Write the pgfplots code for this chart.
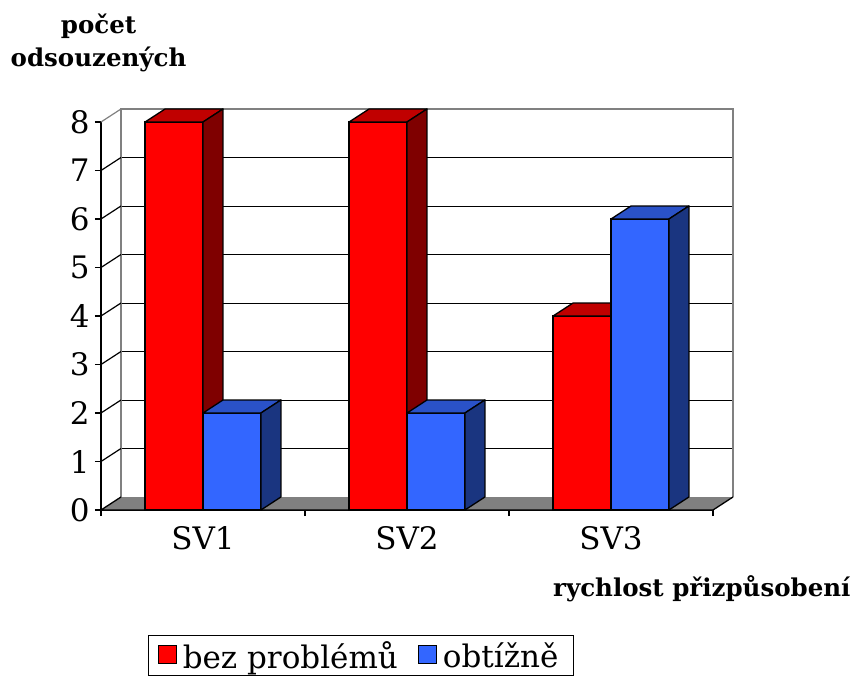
\documentclass[border=0pt]{standalone}
\usepackage{pgfplots}
\pgfplotsset{compat=1.18}
\usepackage{fontspec}
\setmainfont{DejaVu Serif}

\definecolor{redF}{HTML}{FF0000}
\definecolor{redT}{HTML}{C00000}
\definecolor{redS}{HTML}{7F0000}
\definecolor{bluF}{HTML}{3366FF}
\definecolor{bluT}{HTML}{2A52C8}
\definecolor{bluS}{HTML}{1A3580}
\definecolor{wallgray}{HTML}{808080}

% 3D faces (top + side) of a bar: #1 left edge of front face, #2 value, #3 top colour, #4 side colour
\newcommand\faces[4]{%
  \pgfmathsetmacro\xa{#1}%
  \pgfmathsetmacro\xb{#1+0.284}%
  \pgfmathsetmacro\xc{#1+0.098}%
  \pgfmathsetmacro\xd{#1+0.382}%
  \pgfmathsetmacro\yt{#2+0.268}%
  \edef\tmp{%
    \noexpand\addplot[forget plot, fill=#3, draw=black, line width=1.3bp, line join=round] coordinates {(\xa,#2) (\xb,#2) (\xd,\yt) (\xc,\yt)} -- cycle;
    \noexpand\addplot[forget plot, fill=#4, draw=black, line width=1.3bp, line join=round] coordinates {(\xb,0) (\xd,0.268) (\xd,\yt) (\xb,#2)} -- cycle;
  }\tmp}

\begin{document}
\begin{tikzpicture}
\begin{axis}[
  width=612bp, height=388bp, scale only axis,
  xmin=-0.5, xmax=2.5, ymin=0, ymax=8,
  clip=false,
  axis lines*=left,
  axis line style={-, black, line width=1.3bp},
  tick align=outside,
  major tick length=6bp,
  tick style={black, line width=1.3bp},
  ytick={0,1,...,8},
  xtick={-0.5,0.5,1.5,2.5},
  xticklabels={},
  extra x ticks={0,1,2},
  extra x tick labels={SV1,SV2,SV3},
  extra x tick style={major tick length=0pt},
  /pgf/number format/assume math mode=true,
  ticklabel style={font=\fontsize{31bp}{36bp}\selectfont},
  xticklabel style={yshift=-13bp},
  yticklabel style={xshift=-2bp},
  xlabel={rychlost přizpůsobení},
  xlabel style={at={(rel axis cs:1.225,-0.204)}, anchor=east, inner sep=0pt,
    font=\fontsize{24.5bp}{30bp}\selectfont\bfseries},
  ylabel={počet\\odsouzených},
  ylabel style={rotate=-90, at={(rel axis cs:-0.004,1.2036)}, anchor=center, align=center,
    inner sep=0pt, font=\fontsize{24.5bp}{33bp}\selectfont\bfseries},
  legend columns=2,
  legend image code/.code={\draw[#1, draw=black, line width=1bp] (0bp,-8bp) rectangle (18bp,10bp);},
  legend style={at={(rel axis cs:0.425,-0.375)}, anchor=center, draw=black, line width=1bp,
    font=\fontsize{31bp}{36bp}\selectfont, inner xsep=9bp, inner ysep=4bp,
    nodes={inner xsep=6bp, inner ysep=2bp},
    /tikz/every even column/.append style={column sep=14bp}},
]
% back wall grid lines (shifted by the depth)
\addplot[forget plot, black, line width=1bp] coordinates {(-0.402,1.268) (2.598,1.268)};
\addplot[forget plot, black, line width=1bp] coordinates {(-0.402,2.268) (2.598,2.268)};
\addplot[forget plot, black, line width=1bp] coordinates {(-0.402,3.268) (2.598,3.268)};
\addplot[forget plot, black, line width=1bp] coordinates {(-0.402,4.268) (2.598,4.268)};
\addplot[forget plot, black, line width=1bp] coordinates {(-0.402,5.268) (2.598,5.268)};
\addplot[forget plot, black, line width=1bp] coordinates {(-0.402,6.268) (2.598,6.268)};
\addplot[forget plot, black, line width=1bp] coordinates {(-0.402,7.268) (2.598,7.268)};
% back wall outline
\addplot[forget plot, wallgray, line width=1.3bp] coordinates {(-0.402,0.268) (-0.402,8.268) (2.598,8.268) (2.598,0.268)};
% side wall lines
\addplot[forget plot, black, line width=1.2bp] coordinates {(-0.5,1) (-0.402,1.268)};
\addplot[forget plot, black, line width=1.2bp] coordinates {(-0.5,2) (-0.402,2.268)};
\addplot[forget plot, black, line width=1.2bp] coordinates {(-0.5,3) (-0.402,3.268)};
\addplot[forget plot, black, line width=1.2bp] coordinates {(-0.5,4) (-0.402,4.268)};
\addplot[forget plot, black, line width=1.2bp] coordinates {(-0.5,5) (-0.402,5.268)};
\addplot[forget plot, black, line width=1.2bp] coordinates {(-0.5,6) (-0.402,6.268)};
\addplot[forget plot, black, line width=1.2bp] coordinates {(-0.5,7) (-0.402,7.268)};
\addplot[forget plot, wallgray, line width=1.2bp] coordinates {(-0.5,8) (-0.402,8.268)};
% floor
\addplot[forget plot, fill=wallgray, draw=none] coordinates {(-0.5,0) (2.5,0) (2.598,0.268) (-0.402,0.268)} -- cycle;
\addplot[forget plot, black, line width=1.3bp] coordinates {(-0.402,0.268) (-0.5,0) (2.5,0) (2.598,0.268)};

% bez problémů
\addplot[forget plot, ybar, bar width=0.284, bar shift=-0.142, fill=redF, draw=black, line width=1.3bp]
  coordinates {(0,8) (1,8) (2,4)};
\faces{-0.284}{8}{redT}{redS}
\faces{0.716}{8}{redT}{redS}
\faces{1.716}{4}{redT}{redS}
% obtížně
\addplot[forget plot, ybar, bar width=0.284, bar shift=0.142, fill=bluF, draw=black, line width=1.3bp]
  coordinates {(0,2) (1,2) (2,6)};
\faces{0}{2}{bluT}{bluS}
\faces{1}{2}{bluT}{bluS}
\faces{2}{6}{bluT}{bluS}

\addlegendimage{fill=redF}
\addlegendentry{bez problémů}
\addlegendimage{fill=bluF}
\addlegendentry{obtížně}
\end{axis}
\path (-101bp,-169bp) rectangle (753bp,510bp);
\end{tikzpicture}
\end{document}
